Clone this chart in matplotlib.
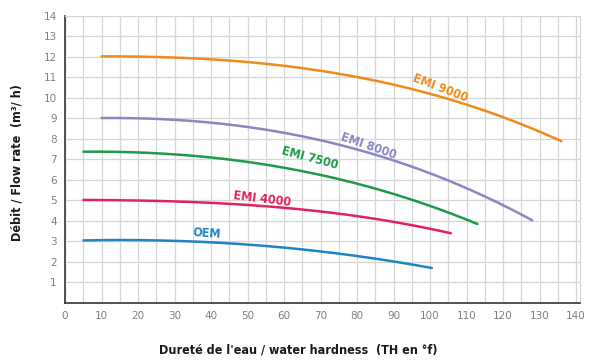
import matplotlib
matplotlib.use("Agg")
import matplotlib.pyplot as plt
import numpy as np

# Data
emi9000_x = [10, 20, 30, 40, 50, 64, 80, 95, 110, 120, 128, 136]
emi9000_y = [12.0, 12.02, 12.0, 11.9, 11.75, 11.45, 11.0, 10.4, 9.66, 9.1, 8.6, 7.8]
emi8000_x = [10, 20, 35, 51, 64, 80, 97, 112, 120, 128]
emi8000_y = [9.02, 9.0, 8.88, 8.54, 8.15, 7.5, 6.55, 5.4, 4.75, 4.05]
emi7500_x = [5, 15, 25, 35, 45, 53, 64, 76, 85, 97, 105, 113]
emi7500_y = [7.38, 7.36, 7.3, 7.15, 7.0, 6.83, 6.45, 6.0, 5.55, 4.93, 4.4, 3.85]
emi4000_x = [5, 15, 25, 35, 45, 55, 64, 75, 85, 91.5, 98, 105.7]
emi4000_y = [5.02, 5.0, 4.98, 4.93, 4.85, 4.7, 4.55, 4.33, 4.1, 3.95, 3.7, 3.37]
oem_x = [5, 15, 25, 37, 45, 55, 64, 75, 85, 92, 100.5]
oem_y = [3.05, 3.06, 3.05, 2.98, 2.9, 2.78, 2.63, 2.4, 2.15, 1.97, 1.7]

series = [
    ("EMI 9000", emi9000_x, emi9000_y, "#f08a1c", (440, 88), -21),
    ("EMI 8000", emi8000_x, emi8000_y, "#8a86c0", (369, 146), -19),
    ("EMI 7500", emi7500_x, emi7500_y, "#1e9a48", (310, 158), -15),
    ("EMI 4000", emi4000_x, emi4000_y, "#e0245a", (262, 199), -7),
    ("OEM", oem_x, oem_y, "#1f84c4", (207, 233), -4),
]

x_ticks = list(range(0, 141, 10))
y_ticks = list(range(1, 15))

fig = plt.figure(figsize=(5.97, 3.61), dpi=100)
ax = fig.add_axes([0.109, 0.161, 0.862, 0.795])

for name, xs, ys, color, (px, py), rot in series:
    xs = np.array(xs); ys = np.array(ys)
    coef = np.polyfit(xs, ys, 3)
    xx = np.linspace(xs.min(), xs.max(), 200)
    ax.plot(xx, np.polyval(coef, xx), color=color, lw=1.8, solid_capstyle='round')

ax.set_xlim(0, 141)
ax.set_ylim(0, 14)
ax.set_xticks(x_ticks)
ax.set_yticks(y_ticks)
ax.set_xticks(np.arange(5, 141, 10), minor=True)
ax.grid(True, which='both', color='#d6d6d6', lw=0.9)
ax.tick_params(which='both', length=0)
ax.tick_params(axis='both', labelsize=7.5, labelcolor='#808080', pad=6)
for s in ['top', 'right']:
    ax.spines[s].set_color('#d6d6d6')
for s in ['left', 'bottom']:
    ax.spines[s].set_color('#333333')
    ax.spines[s].set_linewidth(1.2)

for name, xs, ys, color, (px, py), rot in series:
    fig.text(px / 597, 1 - py / 361, name, color=color, fontsize=9,
             fontweight='heavy', fontstretch='condensed', family='DejaVu Sans',
             rotation=rot, ha='center', va='center')

fig.text(0.5, 1 - 350 / 361, "Dureté de l'eau / water hardness  (TH en °f)",
         ha='center', va='center', fontsize=9, fontweight='heavy',
         fontstretch='condensed', color='#1a1a1a')
fig.text(0.028, 0.55, "Débit / Flow rate  (m³/ h)", rotation=90,
         ha='center', va='center', fontsize=9, fontweight='heavy',
         fontstretch='condensed', color='#1a1a1a')

fig.savefig("out.png", dpi=100)
